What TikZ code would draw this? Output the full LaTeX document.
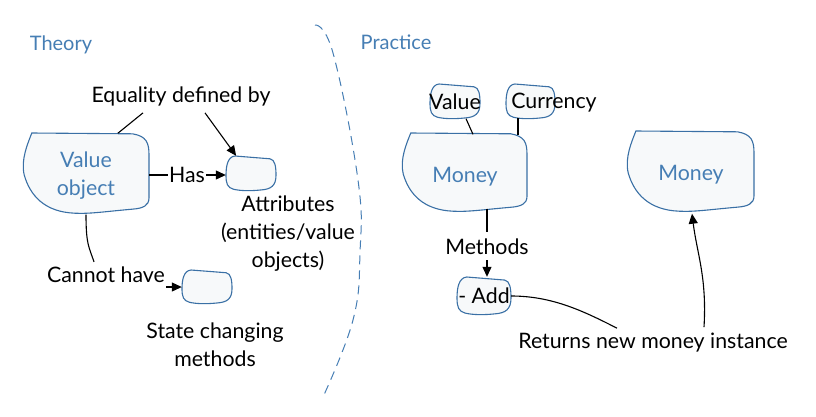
\documentclass[tikz,border=0pt]{standalone}
\usepackage{fontspec}
\setmainfont{Lato}
\usetikzlibrary{arrows.meta,calc}
\definecolor{hblue}{RGB}{70,126,180}
\definecolor{bstroke}{RGB}{58,112,165}
\definecolor{bfill}{RGB}{247,249,250}
\newcommand\bigblob[4]{\draw[blob,shift={(#1,#2)},xscale=#3,yscale=#4] (0.07,0) -- (0.87,0.01) .. controls (0.98,0.04) and (1,0.12) .. (1,0.27) -- (1,0.80) .. controls (1,0.90) and (0.95,0.93) .. (0.87,0.94) .. controls (0.65,0.97) and (0.53,1) .. (0.41,0.99) .. controls (0.17,0.975) and (0.056,0.77) .. (0.01,0.52) .. controls (-0.02,0.33) and (0.04,0.12) .. (0.07,0) -- cycle;}
\newcommand\smallblob[4]{\draw[blob,shift={(#1,#2)},xscale=#3,yscale=#4] (0.18,0) -- (0.88,0.08) .. controls (0.98,0.1) and (1,0.3) .. (1,0.55) .. controls (1,0.85) and (0.9,0.95) .. (0.7,0.97) .. controls (0.5,1) and (0.3,1) .. (0.15,0.95) .. controls (0.03,0.9) and (0,0.8) .. (0,0.55) .. controls (0,0.3) and (0.03,0.02) .. (0.18,0) -- cycle;}
\begin{document}
\begin{tikzpicture}[x=1pt,y=-1pt,
  blob/.style={draw=bstroke,fill=bfill,line width=1.1pt},
  lbl/.style={text=black,inner sep=1pt,font=\fontsize{21.3}{28}\selectfont,align=center},
  ttl/.style={lbl,text=hblue,font=\fontsize{20}{24}\selectfont},
  holder/.style 2 args={minimum width=#1,minimum height=#2,inner sep=0pt,font=\fontsize{21.3}{28}\selectfont,align=center},
  btxt/.style={text=hblue},
  conn/.style={line width=1.1pt,black},
  arr/.style={conn,-{Triangle[length=10pt,width=9pt]}}]
\useasboundingbox (0,0) rectangle (816,416);

% divider
\draw[hblue,line width=1pt,dash pattern=on 9pt off 6pt] plot[smooth,tension=0.7] coordinates {(315,25) (333,53) (358,180) (360,253) (353,320) (323,397)};

% blobs
\bigblob{23}{133}{126}{81}
\bigblob{402}{133}{125}{79}
\bigblob{627}{131}{127}{81}
\smallblob{226}{156}{50}{35}
\smallblob{182}{270}{50}{34}
\smallblob{430}{84}{50}{35}
\smallblob{506}{84}{49}{35}
\smallblob{457}{277}{54}{38}

% nodes
\node[ttl] (theory) at (61,45) {Theory};
\node[ttl] (practice) at (396,42) {Practice};
\node[holder={126}{81},btxt] (vo) at (86,174) {};
\node[lbl,btxt] (votxt) at (86,176) {Value\\object};
\node[holder={50}{35}] (attr) at (251,173.5) {};
\node[holder={50}{34}] (state) at (207,287) {};
\node[lbl] (eq) at (181,96) {Equality defined by};
\node[lbl] (has) at (187,175) {Has};
\node[lbl] (attrl) at (288,234) {Attributes\\(entities/value\\objects)};
\node[lbl] (cannot) at (106,275) {Cannot have};
\node[lbl] (statel) at (215,345) {State changing\\methods};

\node[holder={125}{79}] (m1) at (464.5,174) {};
\node[lbl,btxt] (m1txt) at (465,177) {Money};
\node[holder={127}{81}] (m2) at (690.5,173) {};
\node[lbl,btxt] (m2txt) at (691,174.5) {Money};
\node[holder={50}{35}] (val) at (455,102) {Value};
\node[holder={49}{35}] (cur) at (530.5,101.5) {};
\node[lbl] (curtxt) at (554,103) {Currency};
\node[lbl] (meth) at (487,247) {Methods};
\node[holder={54}{38}] (add) at (484,296) {- Add};
\node[lbl] (ret) at (653,343) {Returns new money instance};

% connectors
\draw[conn] (vo.52) -- ($(eq.south)+(-38,6)$);
\draw[arr] ($(eq.south)+(24,6)$) -- (attr.130);
\draw[conn] (vo.east |- has.west) -- (has.west);
\draw[arr] (has.east) -- (attr.west |- has.east);
\draw[conn] (vo.south) .. controls +(0,30) and +(-5,-15) .. ($(cannot.north)+(-12,-4)$);
\draw[arr] (cannot.east |- state.west) -- (state.west);

\draw[conn] ($(val.south)+(11,-1)$) -- ($(m1.north)+(8.5,0)$);
\draw[conn] ($(cur.south)+(-12.5,-1)$) -- ($(m1.north)+(53.5,1)$);
\draw[conn] ($(m1.south -| meth.north)+(0,-5)$) -- ($(meth.north)+(0,-6)$);
\draw[arr] ($(meth.south)+(0,4)$) -- (add.north -| meth.south);
\draw[conn] (add.east) .. controls +(40,0) and +(-35,-18) .. ($(ret.north)+(-36,-4)$);
\draw[arr] ($(ret.north)+(51,-5)$) .. controls +(3,-50) and +(5,40) .. ($(m2.south)+(1.5,0)$);
\end{tikzpicture}
\end{document}
